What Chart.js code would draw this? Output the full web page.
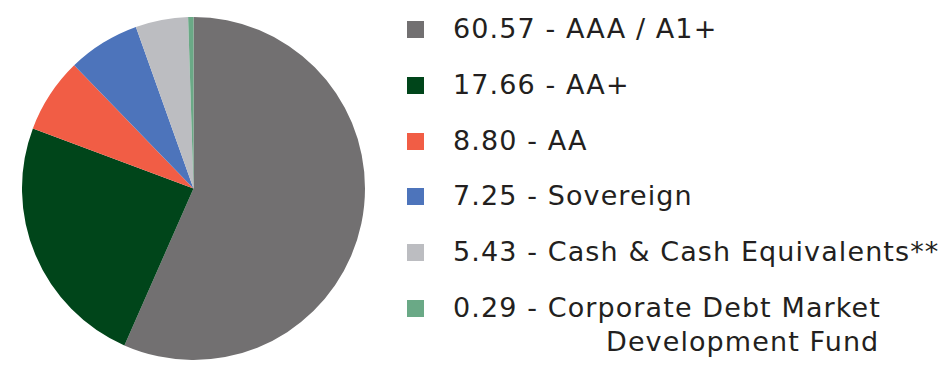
<!DOCTYPE html>
<html>
<head>
<meta charset="utf-8">
<script src="https://cdn.jsdelivr.net/npm/chart.js@4.4.1/dist/chart.umd.min.js"></script>
<style>
  html, body { margin: 0; padding: 0; background: #fff; }
  body { width: 940px; height: 371px; position: relative; overflow: hidden; font-family: "DejaVu Sans", sans-serif; }
  #pie-wrap { position: absolute; left: 22px; top: 17px; width: 343px; height: 343px; }
  #legend { position: absolute; left: 406px; top: 10px; width: 534px; }
  .item { position: relative; height: 55.8px; font-size: 27px; line-height: 37px; letter-spacing: 1.1px; color: #231f20; white-space: nowrap; }
  .item .box { position: absolute; left: 1px; top: 11px; width: 17px; height: 17px; }
  .item .txt { position: absolute; left: 47px; top: 0; }
  .item .txt2 { padding-left: 153px; margin-top: -3px; }
</style>
</head>
<body>
<div id="pie-wrap"><canvas id="pie-chart"></canvas></div>
<div id="legend"></div>
<script>
  // legend figures (as printed)
  var legendValues = [60.57, 17.66, 8.80, 7.25, 5.43, 0.29];
  var labels = ['AAA / A1+', 'AA+', 'AA', 'Sovereign', 'Cash & Cash Equivalents**', 'Corporate Debt Market|Development Fund'];
  var sliceValues = [56.6, 24.1, 7.05, 6.8, 4.95, 0.5];
  var colors = ['#727071', '#00451a', '#f15d45', '#4d74bb', '#bcbdc1', '#6aa986'];

  // legend built from the same arrays
  var legend = document.getElementById('legend');
  for (var i = 0; i < legendValues.length; i++) {
    var parts = labels[i].split('|');
    var item = document.createElement('div');
    item.className = 'item';
    var box = document.createElement('span');
    box.className = 'box';
    box.style.background = colors[i];
    var txt = document.createElement('div');
    txt.className = 'txt';
    var line1 = document.createElement('div');
    line1.textContent = legendValues[i].toFixed(2) + ' - ' + parts[0];
    txt.appendChild(line1);
    if (parts[1]) {
      var line2 = document.createElement('div');
      line2.className = 'txt2';
      line2.textContent = parts[1];
      txt.appendChild(line2);
    }
    item.appendChild(box);
    item.appendChild(txt);
    legend.appendChild(item);
  }

  var pie = new Chart(document.getElementById('pie-chart'), {
    type: 'pie',
    data: {
      labels: labels.map(function(l) { return l.replace('|', ' '); }),
      datasets: [{
        data: sliceValues,
        backgroundColor: colors,
        borderWidth: 0
      }]
    },
    options: {
      responsive: true,
      maintainAspectRatio: false,
      animation: false,
      layout: { padding: 0 },
      plugins: {
        legend: { display: false },
        tooltip: { enabled: false }
      }
    }
  });
</script>
</body>
</html>
